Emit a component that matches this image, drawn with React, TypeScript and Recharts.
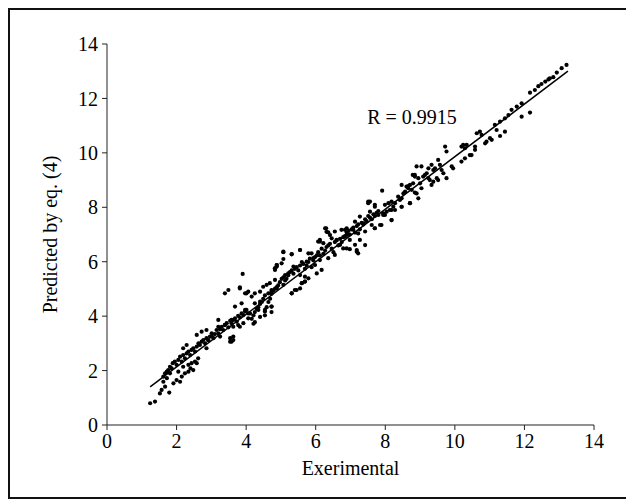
import { ScatterChart, Scatter, XAxis, YAxis, ReferenceLine, ReferenceDot } from 'recharts';

const lowRange: [number, number][] = [
  [1.24, 0.8], [1.38, 0.86], [1.52, 1.16], [1.57, 1.29], [1.67, 1.41], [1.79, 1.19], [1.62, 1.59], [1.72, 1.72],
  [1.81, 1.9], [1.91, 1.53], [2.0, 1.65], [2.1, 1.59], [2.15, 1.78], [2.24, 1.9], [2.34, 1.96], [2.4, 2.08],
  [2.48, 2.02], [2.58, 2.27], [2.62, 2.45], [1.62, 1.78], [1.67, 1.9], [1.72, 1.96], [1.76, 2.02], [1.81, 2.14],
  [1.86, 2.08], [1.89, 2.27], [1.95, 2.33], [2.0, 2.21], [2.05, 2.39], [2.1, 2.51], [2.15, 2.33], [2.19, 2.57],
  [2.24, 2.45], [2.29, 2.63], [2.34, 2.7], [2.39, 2.57], [2.43, 2.76], [2.48, 2.82], [2.53, 2.7], [2.58, 2.88],
  [2.63, 3.0], [2.67, 2.94], [2.72, 3.06], [2.77, 3.12], [2.82, 3.0], [2.86, 3.19], [2.91, 3.12], [2.96, 3.25],
  [3.01, 3.27], [3.06, 3.19], [3.1, 3.34], [3.15, 3.49], [3.2, 3.37], [3.25, 3.52], [3.3, 3.61], [3.34, 3.49],
  [3.39, 3.68], [3.44, 3.74], [3.49, 3.59], [3.54, 3.83], [3.58, 3.74], [3.63, 3.86], [3.68, 3.92], [3.73, 3.8],
  [3.77, 4.01], [3.82, 3.96], [3.87, 4.1], [3.92, 4.04], [3.97, 4.17], [4.01, 4.23], [4.06, 4.1],
  [2.19, 2.82], [2.29, 2.94], [2.58, 3.31], [2.72, 3.43], [2.86, 3.49], [3.2, 3.86], [3.39, 4.84], [3.49, 4.96],
  [3.82, 5.02], [3.9, 5.55], [4.01, 4.84], [3.54, 3.19], [3.58, 3.06], [3.63, 3.25], [3.82, 3.61], [3.92, 3.74],
  [4.06, 3.92], [2.05, 1.96], [2.19, 2.14], [2.34, 2.21], [2.43, 2.27], [2.53, 2.33],
];

const lowMidRange: [number, number][] = [
  [3.82, 5.06], [3.97, 4.84], [4.06, 4.9], [4.16, 4.72], [4.25, 4.84], [4.4, 4.9], [4.49, 5.08], [4.59, 5.15],
  [4.68, 5.21], [4.83, 5.33], [4.88, 5.82], [4.83, 5.7], [4.73, 4.96], [4.64, 4.84], [3.68, 4.35], [3.87, 4.47],
  [3.97, 4.23], [4.11, 4.1], [4.35, 4.23], [4.54, 4.23], [4.73, 4.35], [4.25, 4.47], [4.4, 4.53], [3.01, 3.37],
  [3.2, 3.61], [3.39, 3.67], [3.58, 3.86], [3.63, 3.61], [3.77, 3.67], [3.63, 3.12], [3.54, 3.06], [3.25, 3.25],
  [2.91, 3.12], [2.86, 2.82],
];

const midRange: [number, number][] = [
  [4.16, 3.9], [4.21, 4.03], [4.25, 4.15], [4.3, 4.27], [4.35, 4.33], [4.4, 4.45], [4.45, 4.52], [4.49, 4.64],
  [4.54, 4.76], [4.25, 3.78], [4.21, 3.72], [4.4, 3.97], [4.54, 4.03], [4.73, 4.15], [4.59, 4.33], [4.64, 4.52],
  [4.69, 4.64], [4.73, 4.82], [4.78, 4.94], [4.83, 5.01], [4.88, 5.07], [4.92, 5.13], [4.97, 5.25], [5.02, 5.37],
  [5.07, 5.43], [5.12, 5.31], [5.16, 5.37], [5.21, 5.5], [5.26, 5.62], [5.31, 5.68], [5.36, 5.56], [5.4, 5.74],
  [5.45, 5.8], [5.5, 5.68], [5.55, 5.86], [5.6, 5.99], [5.64, 5.92], [5.69, 5.74], [5.74, 5.86], [5.79, 5.99],
  [5.83, 6.11], [5.88, 5.8], [5.93, 6.05], [5.98, 6.17], [6.03, 6.23], [6.07, 6.35], [6.12, 6.23], [6.17, 6.48],
  [6.22, 6.29], [6.27, 6.41], [6.31, 6.54], [6.36, 6.6], [6.41, 6.66], [6.46, 6.48], [6.51, 6.35], [6.55, 6.72],
  [6.6, 6.78], [6.65, 6.6], [6.7, 6.84], [6.75, 6.72], [6.79, 6.9], [6.84, 6.94], [6.89, 7.07], [6.94, 7.13],
  [6.98, 7.0], [7.03, 7.19], [7.08, 7.25], [7.13, 7.07], [7.18, 7.31], [7.22, 7.37], [7.27, 7.19], [7.32, 7.43],
  [7.37, 7.37], [7.42, 7.56], [7.46, 7.49], [7.51, 7.68], [7.56, 7.62], [7.61, 7.56], [7.66, 7.74], [7.7, 7.68],
  [7.75, 7.8], [7.8, 7.86],
  [5.07, 6.37], [4.83, 5.76], [4.88, 5.88], [5.02, 5.94], [5.31, 6.28], [5.55, 6.43], [6.07, 6.74], [6.12, 6.8],
  [6.27, 7.23], [6.31, 7.1], [6.41, 6.98], [7.51, 8.15], [7.56, 8.21], [7.7, 8.02],
  [4.54, 4.17], [5.31, 4.84], [5.4, 4.96], [5.55, 5.02], [5.6, 5.21], [5.69, 5.27], [5.79, 5.39], [6.03, 5.57],
  [6.17, 5.7], [7.18, 6.43], [7.22, 6.31], [7.42, 6.61], [7.7, 7.23],
];

const midExtra: [number, number][] = [
  [6.3, 7.23], [6.36, 7.08], [6.55, 7.11], [6.74, 7.17], [6.89, 7.23], [6.12, 6.74], [6.22, 6.68], [6.46, 6.86],
  [6.6, 6.8], [6.7, 6.62], [6.84, 6.92], [6.89, 6.49], [5.07, 6.35], [5.31, 6.27], [5.55, 6.43], [5.79, 6.31],
  [5.88, 6.31], [5.07, 6.1], [4.88, 5.88], [4.83, 5.76], [5.36, 5.82], [5.74, 6.0], [5.93, 6.13], [6.12, 6.06],
  [6.36, 6.13], [6.55, 6.25], [5.12, 5.51], [5.21, 5.57], [5.55, 5.51], [5.69, 5.45], [5.98, 5.88], [5.6, 5.21],
  [5.69, 5.27], [5.07, 5.15], [4.88, 5.02], [4.73, 4.9], [5.31, 4.84], [5.45, 4.96], [4.73, 4.35],
];

const upperMidRange: [number, number][] = [
  [8.79, 9.19], [8.47, 8.82], [8.66, 8.78], [7.91, 8.61], [8.85, 8.54], [8.71, 8.15], [8.47, 8.02], [8.28, 7.9],
  [8.18, 7.53], [7.51, 8.21], [7.7, 8.09], [7.99, 8.09], [7.56, 7.84], [7.8, 7.72], [7.94, 7.72], [8.18, 7.9],
  [7.27, 7.66], [7.13, 7.47], [7.37, 7.41], [7.61, 7.35], [7.85, 7.35], [7.7, 7.23], [7.08, 7.17], [6.84, 7.17],
  [6.89, 6.98], [7.22, 7.04], [7.42, 7.11], [6.98, 6.8], [7.27, 6.8], [6.79, 6.49], [6.98, 6.46], [7.18, 6.37],
  [7.13, 6.62],
];

const highRange: [number, number][] = [
  [7.89, 7.35], [7.94, 7.78], [7.99, 7.72], [8.04, 7.84], [8.13, 7.9], [8.18, 7.53], [8.23, 8.02], [8.09, 8.15],
  [8.18, 8.21], [8.28, 8.15], [8.37, 8.39], [8.42, 8.27], [8.47, 8.33], [8.47, 8.02], [8.52, 8.51], [8.57, 8.58],
  [8.61, 8.76], [8.66, 8.7], [8.71, 8.15], [8.71, 8.82], [8.76, 8.64], [8.8, 8.88],
  [8.85, 9.13], [8.9, 8.51], [8.95, 8.33], [9.0, 8.88], [9.04, 8.7], [8.9, 9.5], [9.04, 9.5], [8.85, 9.19],
  [8.95, 9.07], [9.09, 9.13], [9.14, 9.19], [9.19, 9.25], [9.24, 9.07], [9.28, 9.0], [9.33, 8.82], [9.38, 8.94],
  [9.24, 9.43], [9.33, 9.56], [9.38, 9.37], [9.43, 9.43], [9.48, 9.07], [9.52, 9.0], [9.52, 9.74], [9.57, 9.56],
  [9.62, 9.37], [9.67, 9.25], [9.72, 10.23], [9.76, 10.05], [9.76, 9.07], [9.91, 9.5], [9.95, 9.43], [10.19, 10.23],
  [10.24, 10.29], [10.29, 10.17], [10.34, 10.29], [10.19, 9.68], [10.29, 9.8], [10.43, 9.92], [10.48, 9.92],
  [10.58, 10.11], [10.58, 10.23], [10.63, 10.72], [10.72, 10.78], [10.77, 10.66], [10.87, 10.35], [10.91, 10.41],
  [11.01, 10.54], [11.06, 10.48],
];

const topRange: [number, number][] = [
  [13.21, 13.23], [13.07, 13.11], [12.93, 12.95], [12.83, 12.78], [12.73, 12.74], [12.69, 12.7], [12.6, 12.62],
  [12.49, 12.53], [12.4, 12.45], [12.3, 12.31], [12.16, 12.21], [11.92, 11.82], [11.78, 11.7], [11.63, 11.58],
  [11.54, 11.39], [11.44, 11.27], [12.16, 11.48], [11.92, 11.33], [11.15, 11.03], [11.3, 11.15], [11.2, 10.84],
  [11.44, 10.78], [11.3, 10.62],
];

// ends of the fitted line
const fitLine = [
  { x: 1.24, y: 1.4 },
  { x: 13.25, y: 13.0 },
];

const axisTicks = [0, 2, 4, 6, 8, 10, 12, 14];

const points = [...lowRange, ...lowMidRange, ...midRange, ...midExtra, ...upperMidRange, ...highRange, ...topRange].map(
  ([x, y]) => ({ x, y })
);

const font = '"Liberation Serif", "Times New Roman", serif';

const Dot = (props: any) => <circle cx={props.cx} cy={props.cy} r={2.1} fill="#000" />;

export default function App() {
  return (
    <div
      style={{
        width: 626,
        height: 491,
        border: '2px solid #111',
        boxSizing: 'border-box',
        fontFamily: font,
        background: '#fff',
      }}
    >
      <ScatterChart width={622} height={487} margin={{ top: 34, right: 38, bottom: 32, left: 47 }}>
        <XAxis
          type="number"
          dataKey="x"
          domain={[0, 14]}
          ticks={axisTicks}
          interval={0}
          height={40}
          stroke="#222"
          tickSize={5}
          tickMargin={4}
          tick={{ fill: '#000', fontSize: 20, fontFamily: font }}
          label={{ value: 'Exerimental', position: 'bottom', offset: -4, fill: '#000', fontSize: 20, fontFamily: font }}
        />
        <YAxis
          type="number"
          dataKey="y"
          domain={[0, 14]}
          ticks={axisTicks}
          interval={0}
          width={50}
          stroke="#222"
          tickSize={5}
          tickMargin={4}
          tick={{ fill: '#000', fontSize: 20, fontFamily: font }}
          label={{
            value: 'Predicted by eq. (4)',
            angle: -90,
            position: 'insideLeft',
            offset: -7,
            fill: '#000',
            fontSize: 20,
            fontFamily: font,
            style: { textAnchor: 'middle' },
          }}
        />
        <Scatter data={points} shape={Dot} isAnimationActive={false} />
        <ReferenceLine segment={fitLine} stroke="#000" strokeWidth={1.5} />
        <ReferenceDot
          x={8.77}
          y={11.32}
          r={0}
          stroke="none"
          label={{ value: 'R = 0.9915', position: 'center', fill: '#000', fontSize: 20, fontFamily: font }}
        />
      </ScatterChart>
    </div>
  );
}
